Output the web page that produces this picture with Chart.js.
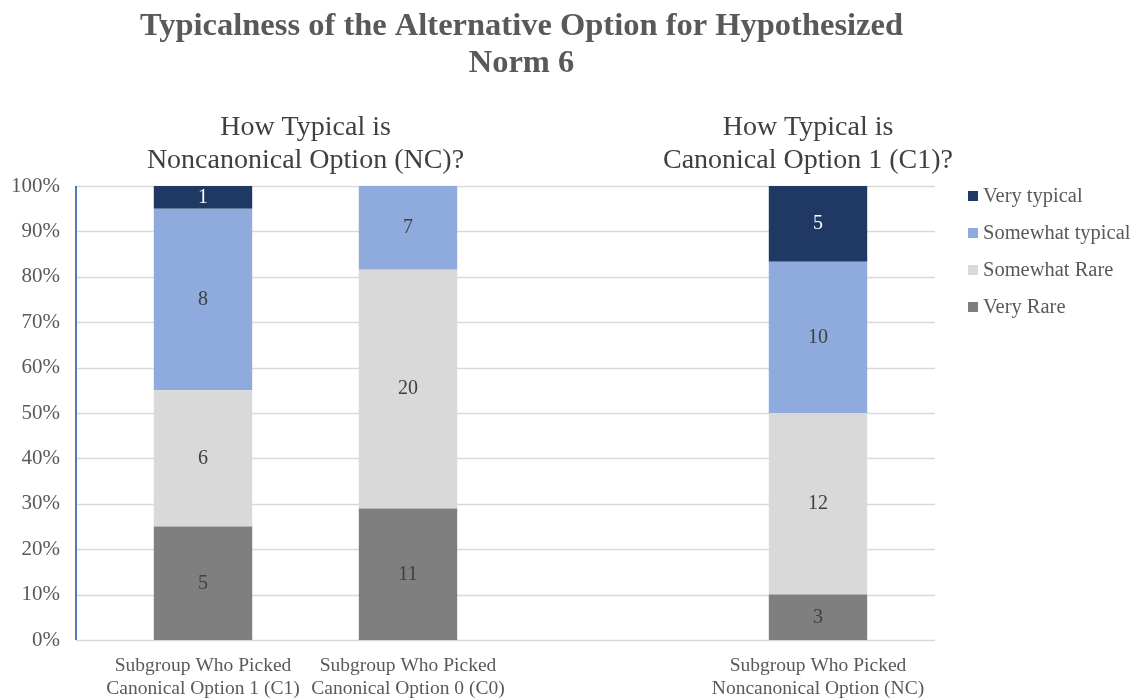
<!DOCTYPE html>
<html>
<head>
<meta charset="utf-8">
<script src="https://cdn.jsdelivr.net/npm/chart.js@4.4.1/dist/chart.umd.min.js"></script>
<style>
  html, body { margin: 0; background: #fff; }
  #wrap { width: 1136px; height: 700px; position: relative; }
</style>
</head>
<body>
<div id="wrap"><canvas id="norm-chart"></canvas></div>
<script>
'use strict';

// ---- data (counts per answer) ----
const categories = [
    ['Subgroup Who Picked', 'Canonical Option 1 (C1)'],
    ['Subgroup Who Picked', 'Canonical Option 0 (C0)'],
    '',
    ['Subgroup Who Picked', 'Noncanonical Option (NC)'],
];
const veryRare        = [5, 11, null, 3];
const somewhatRare    = [6, 20, null, 12];
const somewhatTypical = [8, 7, null, 10];
const veryTypical     = [1, 0, null, 5];

const seriesNames = ['Very Rare', 'Somewhat Rare', 'Somewhat typical', 'Very typical'];
const yTicks = [0, 10, 20, 30, 40, 50, 60, 70, 80, 90, 100];

const titleLines = ['Typicalness of the Alternative Option for Hypothesized', 'Norm 6'];
const groupTitles = [
    { lines: ['How Typical is', 'Noncanonical Option (NC)?'], from: 0, to: 1 },
    { lines: ['How Typical is', 'Canonical Option 1 (C1)?'],  from: 3, to: 3 },
];

// ---- styles ----
const FONT    = "'Liberation Serif', 'Times New Roman', serif";
const COLORS  = ['#7f7f7f', '#d9d9d9', '#8faadc', '#203864'];
const LABELS  = ['#404040', '#404040', '#404040', '#ffffff'];
const GRID    = '#d9d9d9';
const TEXT    = '#595959';
const EXT_L   = 24.5;   // grid reaches past the plot on the left
const EXT_R   = 14.5;   // and on the right

const counts = [veryRare, somewhatRare, somewhatTypical, veryTypical];
const totals = categories.map((_, i) => counts.reduce((s, arr) => s + (arr[i] || 0), 0));
const pct = arr => arr.map((v, i) => (v === null || !totals[i]) ? null : v / totals[i] * 100);

const datasets = counts.map((arr, k) => ({
    label: seriesNames[k],
    data: pct(arr),
    counts: arr,
    backgroundColor: COLORS[k],
    borderWidth: 0,
    barPercentage: 0.48,
    categoryPercentage: 1,
}));

const decorPlugin = {
    id: 'decor',
    beforeDatasetsDraw(chart) {
        const { ctx, chartArea: a, scales: { y } } = chart;
        ctx.save();
        ctx.strokeStyle = GRID;
        ctx.lineWidth = 1.5;
        yTicks.forEach(t => {
            const py = Math.round(y.getPixelForValue(t)) + 0.5;
            ctx.beginPath();
            ctx.moveTo(a.left - EXT_L, py);
            ctx.lineTo(a.right + EXT_R, py);
            ctx.stroke();
        });
        ctx.strokeStyle = '#5a78b0';
        ctx.lineWidth = 2;
        ctx.beginPath();
        ctx.moveTo(a.left - EXT_L, y.getPixelForValue(100));
        ctx.lineTo(a.left - EXT_L, y.getPixelForValue(0));
        ctx.stroke();
        ctx.restore();
    },
    afterDatasetsDraw(chart) {
        const { ctx } = chart;
        ctx.save();
        ctx.font = `20px ${FONT}`;
        ctx.textAlign = 'center';
        ctx.textBaseline = 'middle';
        chart.data.datasets.forEach((ds, k) => {
            const meta = chart.getDatasetMeta(k);
            meta.data.forEach((bar, i) => {
                const v = ds.counts[i];
                if (!v) return;
                ctx.fillStyle = LABELS[k];
                ctx.fillText(String(v), bar.x, (bar.y + bar.base) / 2);
            });
        });
        ctx.restore();
    },
    afterDraw(chart) {
        const { ctx, chartArea: a, scales: { x } } = chart;
        ctx.save();
        ctx.textAlign = 'center';
        ctx.textBaseline = 'middle';

        // main title
        ctx.fillStyle = TEXT;
        ctx.font = `bold 32.5px ${FONT}`;
        const cx = (a.left - EXT_L + a.right + EXT_R) / 2 + 16;
        titleLines.forEach((t, i) => ctx.fillText(t, cx, 27 + i * 37));

        // group headings
        ctx.fillStyle = '#404040';
        ctx.font = `28px ${FONT}`;
        groupTitles.forEach(g => {
            const gx = (x.getPixelForValue(g.from) + x.getPixelForValue(g.to)) / 2;
            g.lines.forEach((t, i) => ctx.fillText(t, gx - (g.from === g.to ? 10 : 0), 128 + i * 33));
        });

        // legend
        ctx.font = `20.5px ${FONT}`;
        ctx.textAlign = 'left';
        const order = chart.data.datasets.slice().reverse();
        order.forEach((ds, i) => {
            const ly = 196 + i * 37;
            ctx.fillStyle = ds.backgroundColor;
            ctx.fillRect(968, ly - 5, 10, 10);
            ctx.fillStyle = TEXT;
            ctx.fillText(ds.label, 983, ly + 1);
        });
        ctx.restore();
    },
};

new Chart(document.getElementById('norm-chart').getContext('2d'), {
    type: 'bar',
    data: { labels: categories, datasets },
    options: {
        responsive: true,
        maintainAspectRatio: false,
        animation: false,
        layout: { padding: { top: 186, right: 215.5, bottom: 0, left: 0 } },
        plugins: {
            legend: { display: false },
            tooltip: { enabled: false },
            title: { display: false },
        },
        scales: {
            x: {
                stacked: true,
                grid: { display: false, drawTicks: false },
                border: { display: false },
                ticks: {
                    color: TEXT,
                    font: { family: FONT, size: 19.5, lineHeight: 1.18 },
                    padding: 14,
                    maxRotation: 0,
                    autoSkip: false,
                },
                afterFit: s => { s.height = 60; },
            },
            y: {
                stacked: true,
                min: 0,
                max: 100,
                grid: { display: false, drawTicks: false },
                border: { display: false },
                afterBuildTicks: s => { s.ticks = yTicks.map(v => ({ value: v })); },
                afterFit: s => { s.width = 100.5; },
                ticks: {
                    color: TEXT,
                    font: { family: FONT, size: 21 },
                    padding: 40.5,
                    callback: v => v + '%',
                },
            },
        },
    },
    plugins: [decorPlugin],
});
</script>
</body>
</html>
